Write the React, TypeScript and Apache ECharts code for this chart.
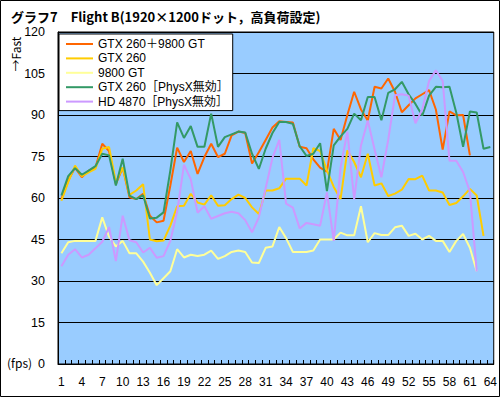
import React, { useEffect, useRef } from "react";
import * as echarts from "echarts";

const FONT = "'Noto Sans CJK JP', 'Noto Sans', sans-serif";
const LATIN_FONT = "'Liberation Sans', 'Noto Sans CJK JP', sans-serif";

const titleText = "グラフ7　Flight B(1920×1200ドット，高負荷設定)";
const yAxisName = "→Fast";
const unitLabel = "(fps)";

const categories = Array.from({ length: 64 }, (_, i) => String(i + 1));

const seriesNames = [
  "GTX 260＋9800 GT",
  "GTX 260",
  "9800 GT",
  "GTX 260［PhysX無効］",
  "HD 4870［PhysX無効］",
];
const seriesColors = ["#FF6600", "#FFCC00", "#FFFF99", "#339966", "#CC99FF"];

const gtx260Plus9800 = [
  59.6, 66.3, 71, 67.5, 69.9, 71, 79.6, 77, 65, 71,
  60.3, 59.6, 61.5, 53.6, 51.2, 51.8, 64.5, 78.2, 73, 77,
  68.7, 74.8, 79.6, 74.8, 76, 82.6, 84, 83.5, 72.5, 76.5,
  81, 85.5, 87.7, 87.5, 87.3, 78.5, 78, 74, 71, 69.5,
  85, 81, 90, 98.4, 92, 88, 100.2, 99.6, 103.2, 98.4,
  91, 93.5, 96, 97.5, 99, 92, 77.5, 91.3, 89.9, 90,
  75.4,
];

const gtx260 = [
  59, 65.7, 71.7, 67.9, 69.3, 70.5, 77.8, 78.4, 65.7, 71.1,
  61.1, 62.7, 65, 45, 44.4, 44.6, 50, 57, 57.2, 61.5,
  58.4, 57.6, 61, 57.2, 57.4, 59.6, 61.2, 60, 56.6, 54.2,
  62.7, 62.7, 63.5, 67, 67, 67, 64.5, 78, 77, 70,
  64, 59.6, 77.2, 73, 67.5, 76, 64.5, 65.3, 60.7, 61.6,
  63, 66.9, 66.8, 68.1, 62.7, 62.7, 62, 57.5, 58.2, 60.6,
  63.3, 60.9, 46.3,
];

const gt9800 = [
  40, 44, 44.5, 44.5, 44.5, 44.5, 53, 46, 42.5, 44.5,
  40, 40, 37, 33, 28.5, 31, 33.5, 41.5, 38.5, 39.5,
  39, 39.5, 41, 38, 39, 40.5, 41, 40.5, 36.7, 36.5,
  42, 42.5, 49.5, 45.5, 40.5, 40.5, 40.5, 41, 45, 45,
  45, 47.5, 46.5, 46.5, 57, 44, 47.3, 46.6, 46.6, 49.4,
  50, 46.3, 47.1, 45, 46.3, 44.5, 44.5, 40.5, 44.5, 47,
  42, 33.5,
];

const gtx260NoPhysX = [
  60.9, 67.9, 70.8, 68.4, 69.9, 71.5, 76, 75.4, 64.5, 74.2,
  60.9, 59.6, 61, 52.6, 52.9, 54.8, 70, 87.3, 81.7, 86,
  78.5, 78.5, 90.5, 78.5, 82, 83, 84, 83.7, 76, 70.5,
  77.8, 83.5, 87.5, 87.5, 86.8, 78.7, 75.2, 76, 79.8, 62.5,
  79, 82.3, 85, 90.5, 88.1, 96.5, 96.5, 88.1, 98, 99.3,
  102, 97.5, 94, 89.8, 97, 100.2, 100, 100.2, 90.8, 78.5,
  91.3, 90.9, 77.8, 78.4,
];

const hd4870NoPhysX = [
  35.3, 39.5, 41.5, 38.5, 39.5, 41.8, 44.2, 49.5, 37.2, 53.6,
  44.7, 44, 40.3, 42, 38.4, 39, 44.5, 55, 72, 66.8,
  54.7, 57, 52.5, 53.5, 54.5, 55, 54.5, 52, 47.6, 53,
  63.5, 74.5, 81, 58, 56.5, 49, 51, 50.5, 50, 62,
  44.5, 71, 84, 59.5, 79, 88, 77.5, 67.5, 81, 97.1,
  97.5, 97, 87, 92, 102.3, 106.2, 102.3, 73.5, 73.5, 69.4,
  62.3, 33.5,
];

const seriesValues = [gtx260Plus9800, gtx260, gt9800, gtx260NoPhysX, hd4870NoPhysX];

export default function App() {
  const ref = useRef<HTMLDivElement>(null);

  useEffect(() => {
    if (!ref.current) return;
    const chart = echarts.init(ref.current, undefined, { renderer: "svg" });

    const option: any = {
      animation: false,
      backgroundColor: "#ffffff",
      title: {
        text: titleText,
        left: 6,
        top: 5,
        textStyle: { fontSize: 13, fontWeight: "bold", color: "#000", fontFamily: FONT },
      },
      grid: {
        left: 58,
        top: 32,
        width: 437,
        height: 332,
        show: true,
        backgroundColor: "#99CCFF",
        borderColor: "#000",
        borderWidth: 1,
      },
      legend: {
        orient: "vertical",
        left: 59,
        top: 34,
        padding: [3, 4, 2, 7],
        itemGap: 0.4,
        itemWidth: 27,
        itemHeight: 2,
        icon: "rect",
        backgroundColor: "#fff",
        borderColor: "#000",
        borderWidth: 1,
        borderRadius: 0,
        textStyle: { fontSize: 12, color: "#000", fontFamily: LATIN_FONT, lineHeight: 14 },
        data: seriesNames,
      },
      xAxis: {
        type: "category",
        data: categories,
        boundaryGap: true,
        axisLine: { lineStyle: { color: "#000", width: 1 } },
        axisTick: { show: true, inside: true, length: 4, interval: 0, lineStyle: { color: "#000" } },
        axisLabel: { interval: 2, color: "#000", fontSize: 12, margin: 12, fontFamily: LATIN_FONT },
        splitLine: { show: false },
      },
      yAxis: {
        type: "value",
        min: 0,
        max: 120,
        interval: 15,
        axisLine: { show: true, lineStyle: { color: "#000", width: 1 } },
        axisTick: { show: false },
        splitLine: { show: true, lineStyle: { color: "#000", width: 1 } },
        axisLabel: { color: "#000", fontSize: 12.5, margin: 13, fontFamily: LATIN_FONT },
      },
      graphic: [
        {
          type: "rect",
          z: 10,
          silent: true,
          shape: { x: 0.5, y: 0.5, width: 499, height: 396 },
          style: { fill: "none", stroke: "#000", lineWidth: 1 },
        },
        {
          type: "text",
          x: 15,
          y: 54,
          rotation: Math.PI / 2,
          z: 10,
          style: {
            text: yAxisName,
            fontSize: 12,
            fontFamily: FONT,
            fill: "#000",
            align: "center",
            verticalAlign: "middle",
          },
        },
        {
          type: "text",
          x: 7,
          y: 362,
          z: 10,
          style: {
            text: unitLabel,
            fontSize: 12,
            fontFamily: FONT,
            fill: "#000",
            align: "left",
            verticalAlign: "middle",
          },
        },
      ],
      series: seriesNames.map((name, i) => ({
        name,
        type: "line",
        data: seriesValues[i],
        symbol: "none",
        showSymbol: false,
        lineStyle: { width: 2, color: seriesColors[i] },
        itemStyle: { color: seriesColors[i] },
        z: 3 + i,
      })),
    };

    chart.setOption(option);
    return () => chart.dispose();
  }, []);

  return (
    <div
      ref={ref}
      style={{ position: "fixed", left: 0, top: 0, width: 500, height: 397, background: "#fff" }}
    />
  );
}
